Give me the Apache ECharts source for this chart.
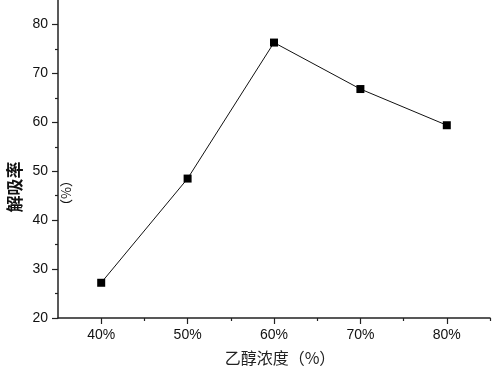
<!DOCTYPE html>
<html><head><meta charset="utf-8">
<script src="https://cdn.jsdelivr.net/npm/echarts@6/dist/echarts.min.js"></script>
<style>html,body{margin:0;padding:0;background:#fff}#c{width:500px;height:371px}</style>
</head><body><div id="c"></div>
<script>
const concentrations = [40, 50, 60, 70, 80];
const desorptionRate = [27.2, 48.5, 76.3, 66.8, 59.4];
const xMajorTicks = [40, 50, 60, 70, 80];
const xMinorTicks = [45, 55, 65, 75, 85];
const yMajorTicks = [20, 30, 40, 50, 60, 70, 80];
const yMinorTicks = [25, 35, 45, 55, 65, 75];
const xTitle = '乙醇浓度（%）';
const yTitle = '解吸率';
const yUnit = '（%）';

const chart = echarts.init(document.getElementById('c'));
const axisColor = '#222';
const labelFont = {fontFamily: 'Liberation Sans, Arial, sans-serif', fontSize: 14, color: '#111'};
chart.setOption({
  animation: false,
  grid: {left: 58, right: 10, top: 0, bottom: 53},
  xAxis: [{
    type: 'value', min: 35, max: 85,
    axisLine: {show: true, lineStyle: {color: axisColor, width: 1.5}},
    axisTick: {show: true, customValues: xMajorTicks, length: 6, lineStyle: {color: axisColor, width: 1.2}},
    axisLabel: Object.assign({customValues: xMajorTicks, margin: 10, formatter: v => v + '%'}, labelFont),
    splitLine: {show: false}
  }, {
    type: 'value', min: 35, max: 85, position: 'bottom',
    axisLine: {show: false},
    axisTick: {show: true, customValues: xMinorTicks, length: 3, lineStyle: {color: axisColor, width: 1.2}},
    axisLabel: {show: false}, splitLine: {show: false}
  }],
  yAxis: [{
    type: 'value', min: 20, max: 85,
    axisLine: {show: true, lineStyle: {color: axisColor, width: 1.5}},
    axisTick: {show: true, customValues: yMajorTicks, length: 6, lineStyle: {color: axisColor, width: 1.2}},
    axisLabel: Object.assign({customValues: yMajorTicks, margin: 10}, labelFont),
    splitLine: {show: false}
  }, {
    type: 'value', min: 20, max: 85, position: 'left',
    axisLine: {show: false},
    axisTick: {show: true, customValues: yMinorTicks, length: 3, lineStyle: {color: axisColor, width: 1.2}},
    axisLabel: {show: false}, splitLine: {show: false}
  }],
  series: [{
    type: 'line', xAxisIndex: 0, yAxisIndex: 0,
    data: concentrations.map((c, i) => [c, desorptionRate[i]]),
    symbol: 'rect', symbolSize: 8,
    itemStyle: {color: '#000'},
    lineStyle: {color: '#111', width: 1}
  }],
  graphic: [
    {type: 'text', x: 15, y: 187, rotation: Math.PI / 2,
      style: {text: yTitle, fontFamily: 'Noto Sans CJK SC', fontSize: 17, fontWeight: 'bold', fill: '#111', align: 'center', verticalAlign: 'middle'}},
    {type: 'text', x: 66, y: 193, rotation: Math.PI / 2,
      style: {text: yUnit, fontFamily: 'Noto Sans CJK SC', fontSize: 13, fill: '#111', align: 'center', verticalAlign: 'middle'}},
    {type: 'text', x: 280, y: 358,
      style: {text: xTitle, fontFamily: 'Noto Sans CJK SC', fontSize: 16, fill: '#222', align: 'center', verticalAlign: 'middle'}}
  ]
});
</script></body></html>
